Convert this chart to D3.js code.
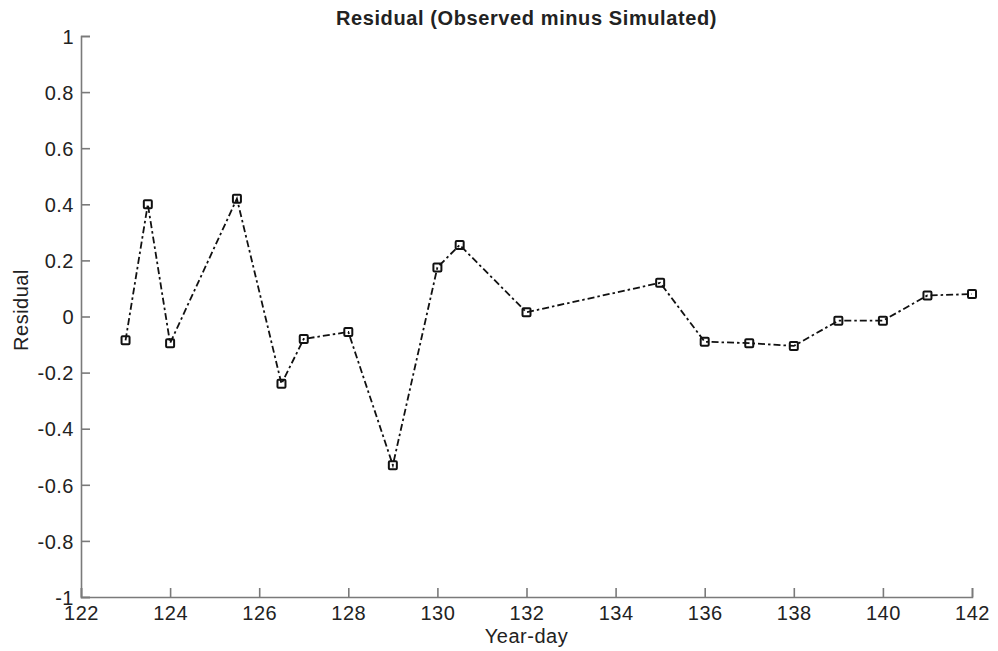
<!DOCTYPE html>
<html>
<head>
<meta charset="utf-8">
<script src="https://cdn.jsdelivr.net/npm/d3@7"></script>
<style>
  body { margin: 0; background: #fff; }
  text { font-family: "Liberation Sans", Arial, Helvetica, sans-serif; fill: #222; }
</style>
</head>
<body>
<div id="chart"></div>
<script>
// year-day and residual values
const days = [123, 123.5, 124, 125.5, 126.5, 127, 128, 129, 130, 130.5, 132, 135, 136, 137, 138, 139, 140, 141, 142];
const residuals = [-0.085, 0.40, -0.095, 0.42, -0.24, -0.08, -0.055, -0.53, 0.175, 0.255, 0.015, 0.12, -0.09, -0.095, -0.105, -0.015, -0.015, 0.075, 0.08];
const xTicks = [122, 124, 126, 128, 130, 132, 134, 136, 138, 140, 142];
const yTicks = [-1, -0.8, -0.6, -0.4, -0.2, 0, 0.2, 0.4, 0.6, 0.8, 1];

const width = 998, height = 651;
const margin = {top: 36, right: 26, bottom: 54, left: 81};

const svg = d3.select('#chart').append('svg')
  .attr('width', width)
  .attr('height', height);

const x = d3.scaleLinear().domain([122, 142]).range([margin.left, width - margin.right]);
const y = d3.scaleLinear().domain([-1, 1]).range([height - margin.bottom, margin.top]);

const axisColor = '#7a7a7a';

// x axis, ticks pointing inward
const xAxis = svg.append('g')
  .attr('transform', 'translate(0,' + y(-1) + ')')
  .call(d3.axisBottom(x).tickValues(xTicks).tickSize(-9).tickPadding(7).tickFormat(d3.format('d')));

// y axis (plain hyphen for negatives, like the original)
const yAxis = svg.append('g')
  .attr('transform', 'translate(' + x(122) + ',0)')
  .call(d3.axisLeft(y).tickValues(yTicks).tickSize(-9).tickPadding(7).tickFormat(d => String(+d.toFixed(1))));

[xAxis, yAxis].forEach(a => {
  a.select('.domain').attr('stroke', axisColor).attr('stroke-width', 1.6);
  a.selectAll('.tick line').attr('stroke', axisColor).attr('stroke-width', 1.6);
  a.selectAll('.tick text')
    .style('font-size', '20px')
    .style('letter-spacing', '0.5px')
    .attr('fill', '#222');
});
xAxis.selectAll('.tick text').attr('dy', '0.8em');
yAxis.selectAll('.tick text').attr('dy', '0.36em');

const pts = days.map((d, i) => [d, residuals[i]]);

const line = d3.line()
  .x(d => x(d[0]))
  .y(d => y(d[1]));

svg.append('path')
  .datum(pts)
  .attr('d', line)
  .attr('fill', 'none')
  .attr('stroke', '#111')
  .attr('stroke-width', 1.8)
  .attr('stroke-dasharray', '7,3,2.5,3');

svg.append('g').selectAll('rect')
  .data(pts)
  .enter()
  .append('rect')
  .attr('x', d => x(d[0]) - 4)
  .attr('y', d => y(d[1]) - 4)
  .attr('width', 8)
  .attr('height', 8)
  .attr('rx', 1)
  .attr('fill', 'none')
  .attr('stroke', '#111')
  .attr('stroke-width', 2);

// title and labels
svg.append('text')
  .attr('x', (x(122) + x(142)) / 2)
  .attr('y', 25)
  .attr('text-anchor', 'middle')
  .style('font-size', '20px')
  .style('font-weight', 'bold')
  .style('letter-spacing', '0.6px')
  .attr('fill', '#111')
  .text('Residual (Observed minus Simulated)');

svg.append('text')
  .attr('x', (x(122) + x(142)) / 2)
  .attr('y', 643)
  .attr('text-anchor', 'middle')
  .style('font-size', '20px')
  .style('letter-spacing', '0.5px')
  .text('Year-day');

svg.append('text')
  .attr('transform', 'translate(28,310) rotate(-90)')
  .attr('text-anchor', 'middle')
  .style('font-size', '20px')
  .style('letter-spacing', '0.5px')
  .text('Residual');
</script>
</body>
</html>
